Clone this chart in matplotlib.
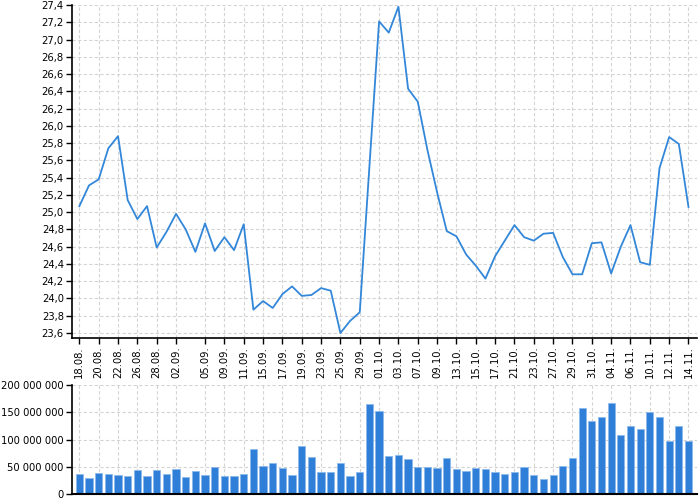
import matplotlib.pyplot as plt
from matplotlib.ticker import FuncFormatter, MultipleLocator

# trading days (dd.mm.)
dates = ["18.08.", "19.08.", "20.08.", "21.08.", "22.08.", "25.08.", "26.08.", "27.08.",
         "28.08.", "29.08.", "02.09.", "03.09.", "04.09.", "05.09.", "08.09.", "09.09.",
         "10.09.", "11.09.", "12.09.", "15.09.", "16.09.", "17.09.", "18.09.", "19.09.",
         "22.09.", "23.09.", "24.09.", "25.09.", "26.09.", "29.09.", "30.09.", "01.10.",
         "02.10.", "03.10.", "06.10.", "07.10.", "08.10.", "09.10.", "10.10.", "13.10.",
         "14.10.", "15.10.", "16.10.", "17.10.", "20.10.", "21.10.", "22.10.", "23.10.",
         "24.10.", "27.10.", "28.10.", "29.10.", "30.10.", "31.10.", "03.11.", "04.11.",
         "05.11.", "06.11.", "07.11.", "10.11.", "11.11.", "12.11.", "13.11.", "14.11."]

tick_dates = ["18.08.", "20.08.", "22.08.", "26.08.", "28.08.", "02.09.", "05.09.", "09.09.",
              "11.09.", "15.09.", "17.09.", "19.09.", "23.09.", "25.09.", "29.09.", "01.10.",
              "03.10.", "07.10.", "09.10.", "13.10.", "15.10.", "17.10.", "21.10.", "23.10.",
              "27.10.", "29.10.", "31.10.", "04.11.", "06.11.", "10.11.", "12.11.", "14.11."]

price = [25.07, 25.31, 25.38, 25.74, 25.88, 25.14, 24.92, 25.07, 24.59, 24.77,
         24.98, 24.80, 24.54, 24.87, 24.55, 24.71, 24.56, 24.86, 23.87, 23.97,
         23.89, 24.05, 24.14, 24.03, 24.04, 24.12, 24.09, 23.60, 23.74, 23.84,
         25.53, 27.21, 27.08, 27.38, 26.43, 26.28, 25.72, 25.23, 24.78, 24.72,
         24.51, 24.38, 24.23, 24.49, 24.67, 24.85, 24.71, 24.67, 24.75, 24.76,
         24.48, 24.28, 24.28, 24.64, 24.65, 24.29, 24.60, 24.85, 24.42, 24.39,
         25.51, 25.87, 25.79, 25.06]

# volume in millions
volume = [36.2, 30.0, 38.7, 37.4, 35.0, 33.0, 44.0, 32.5, 44.8, 37.4,
          45.4, 31.9, 42.3, 35.6, 50.3, 33.7, 33.7, 37.0, 82.8, 51.5,
          57.7, 47.2, 35.0, 87.7, 68.7, 39.9, 40.5, 57.7, 33.7, 39.9,
          165.6, 152.8, 70.6, 71.8, 63.8, 49.1, 50.3, 48.5, 66.3, 46.0,
          42.3, 48.5, 45.0, 40.5, 36.2, 41.1, 49.7, 35.0, 28.2, 35.6,
          50.9, 66.3, 158.3, 134.4, 141.7, 166.9, 108.0, 124.5, 119.0, 150.3,
          140.5, 96.9, 123.9, 97.5]

x = list(range(len(dates)))
tick_pos = [i for i, d in enumerate(dates) if d in tick_dates]
tick_lab = [dates[i] for i in tick_pos]

plt.rcParams['font.family'] = 'DejaVu Sans'
fig = plt.figure(figsize=(7, 5), dpi=100)

line_color = '#3387d9'
bar_color = '#2f7fd8'
grid_kw = dict(color='#d4d4d4', linestyle=(0, (3, 2)), linewidth=0.8)
fs = 7.2

ax = fig.add_axes([0.103, 0.324, 0.893, 0.666])
ax.plot(x, price, color=line_color, linewidth=1.3)
ax.set_xlim(-0.75, 63.9)
ax.set_ylim(23.542, 27.4)
ax.yaxis.set_major_locator(MultipleLocator(0.2))
ax.yaxis.set_major_formatter(FuncFormatter(lambda v, p: f"{v:.1f}".replace('.', ',')))
ax.set_xticks(tick_pos)
ax.set_xticklabels(tick_lab, rotation=90)
ax.grid(True, **grid_kw)
ax.set_axisbelow(True)
for s in ['top', 'right']:
    ax.spines[s].set_visible(False)
ax.spines['left'].set_linewidth(1.2)
ax.spines['bottom'].set_linewidth(1.2)
ax.tick_params(axis='both', labelsize=fs, length=4, width=1, pad=2)

ax2 = fig.add_axes([0.103, 0.012, 0.893, 0.218])
ax2.bar(x, [v * 1e6 for v in volume], width=0.75, color=bar_color,
        edgecolor='#8db9eb', linewidth=0.6)
ax2.set_xlim(-0.75, 63.9)
ax2.set_ylim(0, 200e6)
ax2.yaxis.set_major_locator(MultipleLocator(50e6))
ax2.yaxis.set_major_formatter(FuncFormatter(lambda v, p: f"{int(v):,}".replace(',', ' ')))
ax2.set_xticks(tick_pos)
ax2.set_xticklabels([])
ax2.tick_params(axis='x', length=0)
ax2.tick_params(axis='y', labelsize=fs, length=4, width=1, pad=2)
ax2.grid(True, **grid_kw)
ax2.set_axisbelow(True)
for s in ['top', 'right']:
    ax2.spines[s].set_visible(False)
ax2.spines['left'].set_linewidth(1.2)
ax2.spines['bottom'].set_linewidth(1.5)

plt.savefig("out.png", dpi=100)
